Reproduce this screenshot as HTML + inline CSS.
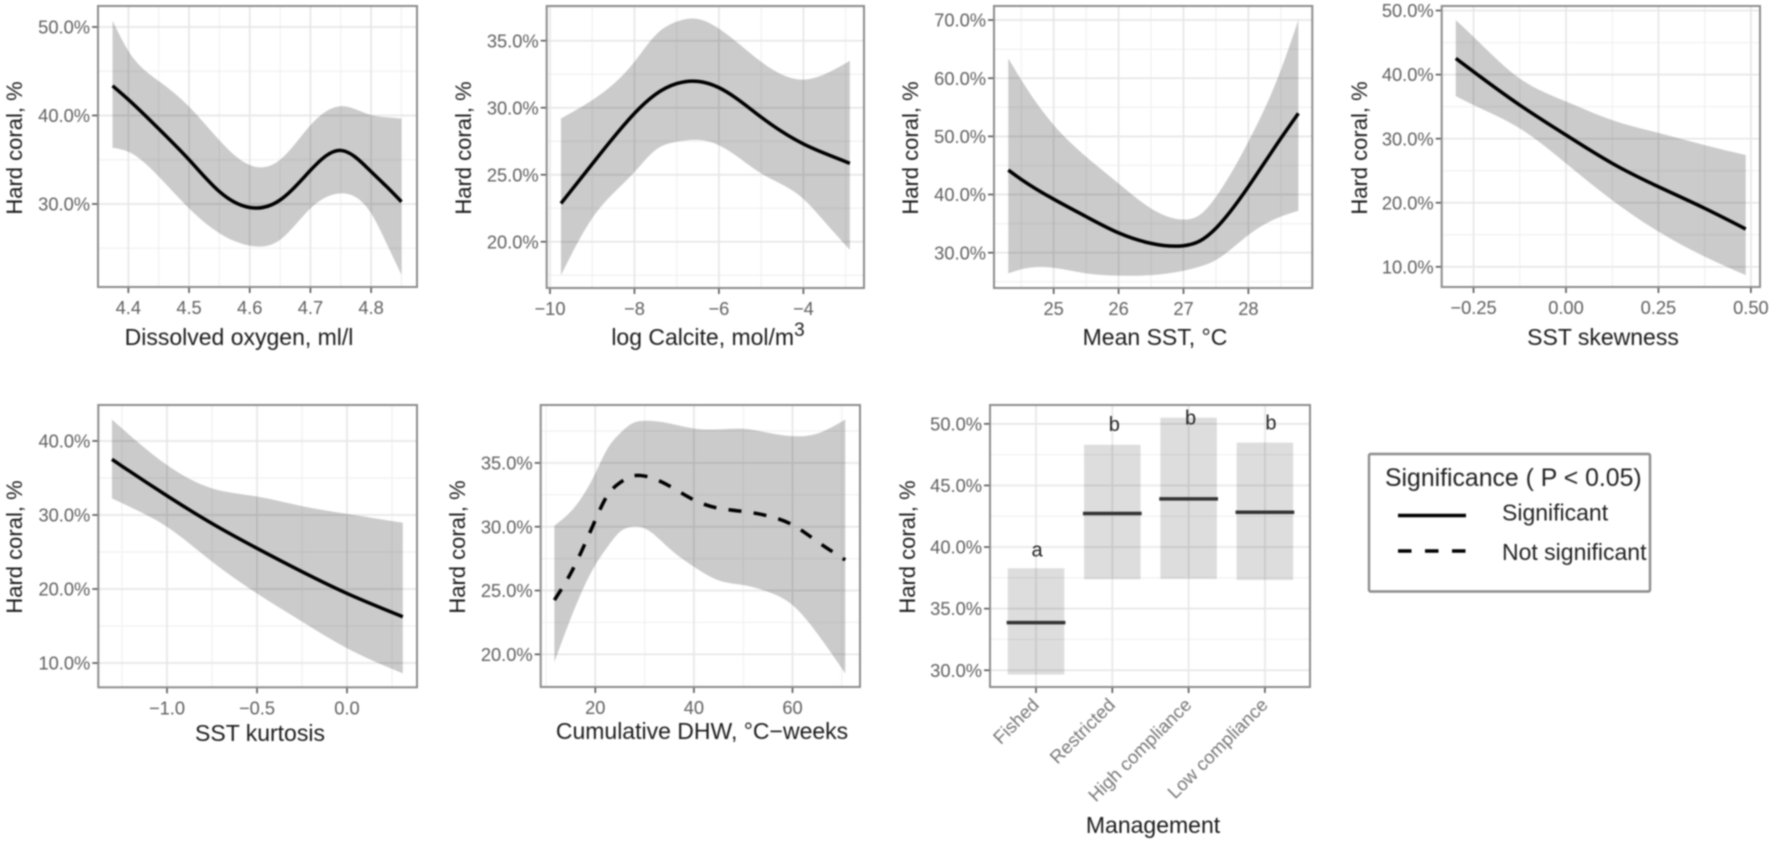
<!DOCTYPE html>
<html lang="en">
<head>
<meta charset="utf-8">
<title>Hard coral partial effects</title>
<style>
html,body{margin:0;padding:0;background:#fff;width:1772px;height:841px;overflow:hidden}
svg{display:block;filter:blur(0.75px);font-family:"Liberation Sans",Arial,sans-serif}
</style>
</head>
<body>
<svg id="fig" xmlns="http://www.w3.org/2000/svg" width="1772" height="841" viewBox="0 0 1772 841"></svg>
<script>
/* ---------- Dissolved oxygen ---------- */
const oxygenX    = [4.374,4.40,4.45,4.50,4.55,4.60,4.65,4.70,4.75,4.80,4.825,4.85];
const oxygenMean = [43.35,41.8,38.5,35.0,31.4,29.6,30.45,33.8,36.05,33.65,32.0,30.25];
const oxygenLow  = [36.35,35.9,33.1,29.5,26.7,25.3,25.95,29.5,31.2,28.95,25.6,22.0];
const oxygenHigh = [50.7,47.3,43.9,41.0,37.2,34.4,35.0,38.9,41.05,40.05,39.8,39.65];
const oxygenXTicks = [4.4,4.5,4.6,4.7,4.8];
const oxygenXLabels = ["4.4","4.5","4.6","4.7","4.8"];
const oxygenYTicks = [30,40,50];
const oxygenYLabels = ["30.0%","40.0%","50.0%"];

/* ---------- log Calcite ---------- */
const calciteX    = [-9.74,-9,-8,-7.5,-7,-6.5,-6,-5,-4,-3.5,-2.9];
const calciteMean = [22.86,25.8,29.58,31.0,31.8,31.97,31.5,29.3,27.3,26.6,25.85];
const calciteLow  = [17.5,21.75,25.2,26.85,27.46,27.6,27.2,25.1,23.2,21.5,19.4];
const calciteHigh = [29.2,30.57,33.43,35.42,36.42,36.62,35.9,33.43,32.1,32.5,33.5];
const calciteXTicks = [-10,-8,-6,-4];
const calciteXLabels = ["\u221210","\u22128","\u22126","\u22124"];
const calciteYTicks = [20,25,30,35];
const calciteYLabels = ["20.0%","25.0%","30.0%","35.0%"];

/* ---------- Mean SST ---------- */
const sstX    = [24.3,24.5,25,25.5,26,26.5,27,27.25,27.5,28,28.5,28.77];
const sstMean = [44.2,42.6,39.2,36.2,33.4,31.6,31.2,32.0,34.2,41.35,49.65,53.95];
const sstLow  = [26.45,27.15,27.4,26.45,26.05,26.15,26.9,27.6,28.75,33.05,36.2,37.2];
const sstHigh = [63.4,59.7,51.95,46.5,41.9,37.6,35.7,36.5,39.6,49.1,61.4,70.0];
const sstXTicks = [25,26,27,28];
const sstXLabels = ["25","26","27","28"];
const sstYTicks = [30,40,50,60,70];
const sstYLabels = ["30.0%","40.0%","50.0%","60.0%","70.0%"];

/* ---------- SST skewness ---------- */
const skewX    = [-0.298,-0.25,-0.125,0,0.125,0.25,0.375,0.486];
const skewMean = [42.54,40.46,35.25,30.57,26.15,22.5,19.13,15.9];
const skewLow  = [36.65,35.25,31.6,26.15,20.4,15.5,11.6,8.7];
const skewHigh = [48.5,45.9,39.4,35.8,32.9,30.9,29.0,27.45];
const skewXTicks = [-0.25,0,0.25,0.5];
const skewXLabels = ["\u22120.25","0.00","0.25","0.50"];
const skewYTicks = [10,20,30,40,50];
const skewYLabels = ["10.0%","20.0%","30.0%","40.0%","50.0%"];

/* ---------- SST kurtosis ---------- */
const kurtX    = [-1.306,-1.25,-1,-0.75,-0.5,-0.25,0,0.31];
const kurtMean = [37.52,36.6,32.6,28.85,25.5,22.34,19.4,16.26];
const kurtLow  = [32.25,31.6,28.4,23.7,19.4,15.6,12.0,8.6];
const kurtHigh = [42.9,41.7,36.75,33.6,32.5,31.2,30.15,28.95];
const kurtXTicks = [-1,-0.5,0];
const kurtXLabels = ["\u22121.0","\u22120.5","0.0"];
const kurtYTicks = [10,20,30,40];
const kurtYLabels = ["10.0%","20.0%","30.0%","40.0%"];

/* ---------- Cumulative DHW ---------- */
const dhwX    = [11.7,15,20,22.5,25,27.5,30,35,40,45,50,55,60,65,70.7];
const dhwMean = [24.25,26.34,30.52,32.48,33.45,33.97,33.97,33.2,32.1,31.45,31.2,30.85,30.15,28.85,27.4];
const dhwLow  = [19.4,22.8,27.0,28.43,29.6,30.0,29.87,28.3,26.86,25.8,25.43,24.9,23.86,21.64,18.5];
const dhwHigh = [30.08,31.18,34.18,36.14,37.32,38.1,38.3,38.1,37.7,37.63,37.68,37.37,37.1,37.3,38.4];
const dhwXTicks = [20,40,60];
const dhwXLabels = ["20","40","60"];
const dhwYTicks = [20,25,30,35];
const dhwYLabels = ["20.0%","25.0%","30.0%","35.0%"];

/* ---------- Management ---------- */
const mgmtCategories = ["Fished","Restricted","High compliance","Low compliance"];
const mgmtMean = [33.87,42.72,43.91,42.82];
const mgmtLow  = [29.65,37.39,37.42,37.33];
const mgmtHigh = [38.28,48.3,50.5,48.48];
const mgmtLetters = ["a","b","b","b"];
const mgmtLetterValues = [39.8,50.0,50.5,50.1];
const mgmtYTicks = [30,35,40,45,50];
const mgmtYLabels = ["30.0%","35.0%","40.0%","45.0%","50.0%"];

/* ---------- drawing ---------- */
const SVGNS = "http://www.w3.org/2000/svg";
const fig = document.getElementById("fig");
const COL = {major:"#e7e7e7",minor:"#f1f1f1",border:"#8c8c8c",tick:"#555",tickText:"#5f5f5f",title:"#1c1c1c"};

function mk(parent, tag, attrs, text){
  const el = document.createElementNS(SVGNS, tag);
  for (const k in attrs) el.setAttribute(k, attrs[k]);
  if (text !== undefined) el.textContent = text;
  parent.appendChild(el);
  return el;
}
function linScale(domain, range){
  return v => range[0] + (v - domain[0]) / (domain[1] - domain[0]) * (range[1] - range[0]);
}
/* natural cubic spline through the points, emitted as bezier segments */
function smooth(pts, move){
  const n = pts.length;
  const h = [], a = new Array(n).fill(0), b = new Array(n).fill(1), c = new Array(n).fill(0), r = new Array(n).fill(0);
  for (let i = 0; i < n-1; i++) h.push(pts[i+1][0]-pts[i][0]);
  for (let i = 1; i < n-1; i++){
    a[i] = h[i-1]; b[i] = 2*(h[i-1]+h[i]); c[i] = h[i];
    r[i] = 6*((pts[i+1][1]-pts[i][1])/h[i] - (pts[i][1]-pts[i-1][1])/h[i-1]);
  }
  for (let i = 1; i < n; i++){
    const w = a[i]/b[i-1];
    b[i] -= w*c[i-1]; r[i] -= w*r[i-1];
  }
  const m = new Array(n).fill(0);
  m[n-1] = r[n-1]/b[n-1];
  for (let i = n-2; i >= 0; i--) m[i] = (r[i]-c[i]*m[i+1])/b[i];
  let d = (move ? "M" : "L") + pts[0][0].toFixed(2) + " " + pts[0][1].toFixed(2);
  for (let i = 0; i < n-1; i++){
    const s = (pts[i+1][1]-pts[i][1])/h[i];
    const d0 = s - h[i]*(2*m[i]+m[i+1])/6;
    const d1 = s + h[i]*(m[i]+2*m[i+1])/6;
    const c1x = pts[i][0]+h[i]/3, c1y = pts[i][1]+d0*h[i]/3;
    const c2x = pts[i+1][0]-h[i]/3, c2y = pts[i+1][1]-d1*h[i]/3;
    d += "C"+c1x.toFixed(2)+" "+c1y.toFixed(2)+" "+c2x.toFixed(2)+" "+c2y.toFixed(2)+" "+pts[i+1][0].toFixed(2)+" "+pts[i+1][1].toFixed(2);
  }
  return d;
}
function minors(ticks, domain){
  const out = [];
  const step = ticks[1] - ticks[0];
  const lo = Math.min(domain[0],domain[1]), hi = Math.max(domain[0],domain[1]);
  for (let v = ticks[0] - step/2; v <= ticks[ticks.length-1] + step/2 + 1e-9; v += step){
    if (v >= lo && v <= hi) out.push(v);
  }
  return out;
}

function drawFrame(cfg){
  const g = mk(fig, "g", {});
  
  
  const b = cfg.box;
  const sx = linScale(cfg.xDomain, [b.l, b.r]);
  const sy = linScale(cfg.yDomain, [b.b, b.t]);

  const grid = mk(g, "g", {});
  
  
  minors(cfg.yTicks, cfg.yDomain).forEach(v => mk(grid,"line",{x1:b.l,x2:b.r,y1:sy(v),y2:sy(v),stroke:COL.minor,"stroke-width":1.2}));
  if (cfg.xMinor !== false) minors(cfg.xTicks, cfg.xDomain).forEach(v => mk(grid,"line",{y1:b.t,y2:b.b,x1:sx(v),x2:sx(v),stroke:COL.minor,"stroke-width":1.2}));
  cfg.yTicks.forEach(v => mk(grid,"line",{x1:b.l,x2:b.r,y1:sy(v),y2:sy(v),stroke:COL.major,"stroke-width":1.7}));
  cfg.xTicks.forEach(v => mk(grid,"line",{y1:b.t,y2:b.b,x1:sx(v),x2:sx(v),stroke:COL.major,"stroke-width":1.7}));

  cfg.yTicks.forEach((v,i) => {
    mk(g,"line",{x1:b.l-6,x2:b.l,y1:sy(v),y2:sy(v),stroke:COL.tick,"stroke-width":1.6});
    const t = mk(g,"text",{x:b.l-8,y:sy(v)+6.6,"text-anchor":"end","font-size":18.3,fill:COL.tickText}, cfg.yLabels[i]);
    
    
  });

  const yt = mk(g,"text",{transform:"translate("+cfg.yTitleX+" "+cfg.yTitleY+") rotate(-90)","text-anchor":"middle","font-size":22,fill:COL.title}, "Hard coral, %");
  
  

  return {g,sx,sy,b};
}
function drawBorder(f){
  const b = f.b;
  const r = mk(f.g,"rect",{x:b.l,y:b.t,width:b.r-b.l,height:b.b-b.t,fill:"none",stroke:COL.border,"stroke-width":2});
  
  
}
function drawXAxisNumeric(f,cfg){
  const b = f.b;
  cfg.xTicks.forEach((v,i) => {
    mk(f.g,"line",{y1:b.b,y2:b.b+6,x1:f.sx(v),x2:f.sx(v),stroke:COL.tick,"stroke-width":1.6});
    const t = mk(f.g,"text",{x:f.sx(v),y:b.b+27,"text-anchor":"middle","font-size":18.3,fill:COL.tickText}, cfg.xLabels[i]);
    
    
  });
  const xt = mk(f.g,"text",{x:cfg.xTitleX,y:cfg.xTitleY,"text-anchor":"middle","font-size":23,fill:COL.title});
  
  
  cfg.xTitle.forEach(part => {
    mk(xt,"tspan",part.sup ? {"font-size":19,dy:-9} : {}, part.t);
  });
}
function drawContinuous(cfg){
  const f = drawFrame(cfg);
  const {g,sx,sy} = f;
  const hiPts = cfg.xs.map((x,i)=>[sx(x),sy(cfg.high[i])]);
  const loPts = cfg.xs.map((x,i)=>[sx(x),sy(cfg.low[i])]).reverse();
  const rib = mk(g,"path",{d:smooth(hiPts,true)+smooth(loPts,false)+"Z",fill:"#000","fill-opacity":0.205});
  
  
  const attrs = {d:smooth(cfg.xs.map((x,i)=>[sx(x),sy(cfg.mean[i])]),true),fill:"none",stroke:"#000","stroke-width":3.5};
  const line = mk(g,"path",attrs);
  
  
  if (cfg.dashed){
    const total = line.getTotalLength();
    const count = Math.round(total / 25.4);
    const period = (total - 3) / count;
    line.setAttribute("stroke-dasharray", "13 " + (period - 13).toFixed(3));
  }
  drawXAxisNumeric(f,cfg);
  drawBorder(f);
}

drawContinuous({name:"dissolved-oxygen",box:{l:98,r:417,t:6,b:287},xDomain:[4.350,4.8756],yDomain:[20.62,52.37],
  xs:oxygenX,mean:oxygenMean,low:oxygenLow,high:oxygenHigh,xTicks:oxygenXTicks,xLabels:oxygenXLabels,yTicks:oxygenYTicks,yLabels:oxygenYLabels,
  yTitleX:22,yTitleY:148,xTitle:[{t:"Dissolved oxygen, ml/l"}],xTitleX:239,xTitleY:345});
drawContinuous({name:"log-calcite",box:{l:546.7,r:864,t:6,b:288},xDomain:[-10.078,-2.565],yDomain:[16.55,37.59],
  xs:calciteX,mean:calciteMean,low:calciteLow,high:calciteHigh,xTicks:calciteXTicks,xLabels:calciteXLabels,yTicks:calciteYTicks,yLabels:calciteYLabels,
  yTitleX:471,yTitleY:148,xTitle:[{t:"log Calcite, mol/m"},{t:"3",sup:true}],xTitleX:708,xTitleY:345});
drawContinuous({name:"mean-sst",box:{l:994,r:1312.3,t:6,b:288},xDomain:[24.08,28.985],yDomain:[23.93,72.41],
  xs:sstX,mean:sstMean,low:sstLow,high:sstHigh,xTicks:sstXTicks,xLabels:sstXLabels,yTicks:sstYTicks,yLabels:sstYLabels,
  yTitleX:918,yTitleY:148,xTitle:[{t:"Mean SST, \u00B0C"}],xTitleX:1155,xTitleY:345});
drawContinuous({name:"sst-skewness",box:{l:1441.7,r:1760,t:6,b:287},xDomain:[-0.3361,0.5246],yDomain:[6.85,50.71],
  xs:skewX,mean:skewMean,low:skewLow,high:skewHigh,xTicks:skewXTicks,xLabels:skewXLabels,yTicks:skewYTicks,yLabels:skewYLabels,
  yTitleX:1367,yTitleY:148,xTitle:[{t:"SST skewness"}],xTitleX:1603,xTitleY:345});
drawContinuous({name:"sst-kurtosis",box:{l:98.3,r:417,t:405,b:687.3},xDomain:[-1.3817,0.3889],yDomain:[6.72,44.86],
  xs:kurtX,mean:kurtMean,low:kurtLow,high:kurtHigh,xTicks:kurtXTicks,xLabels:kurtXLabels,yTicks:kurtYTicks,yLabels:kurtYLabels,
  yTitleX:22,yTitleY:547,xTitle:[{t:"SST kurtosis"}],xTitleX:260,xTitleY:741});
drawContinuous({name:"cumulative-dhw",box:{l:540.7,r:860,t:405,b:687},xDomain:[8.925,73.69],yDomain:[17.44,39.54],dashed:true,
  xs:dhwX,mean:dhwMean,low:dhwLow,high:dhwHigh,xTicks:dhwXTicks,xLabels:dhwXLabels,yTicks:dhwYTicks,yLabels:dhwYLabels,
  yTitleX:465,yTitleY:547,xTitle:[{t:"Cumulative DHW, \u00B0C\u2212weeks"}],xTitleX:702,xTitleY:739});

/* management panel */
(function(){
  const catPos = mgmtCategories.map((c,i)=>i+1);
  const cfg = {name:"management",box:{l:990,r:1310,t:405,b:687},xDomain:[0.397,4.591],yDomain:[28.64,51.53],
    xMinor:false,xTicks:catPos,yTicks:mgmtYTicks,yLabels:mgmtYLabels,yTitleX:915,yTitleY:547};
  const f = drawFrame(cfg);
  const {g,sx,sy,b} = f;
  const halfBox = 0.37, halfBar = 0.385;
  mgmtCategories.forEach((c,i)=>{
    const x = sx(catPos[i]);
    const r = mk(g,"rect",{x:sx(catPos[i]-halfBox),width:sx(catPos[i]+halfBox)-sx(catPos[i]-halfBox),
      y:sy(mgmtHigh[i]),height:sy(mgmtLow[i])-sy(mgmtHigh[i]),fill:"#000","fill-opacity":0.135});
    
    
    const l = mk(g,"line",{x1:sx(catPos[i]-halfBar),x2:sx(catPos[i]+halfBar),y1:sy(mgmtMean[i]),y2:sy(mgmtMean[i]),stroke:"#333","stroke-width":3.5});
    
    
    const lt = mk(g,"text",{x:x+(i===3?6:i===0?1:2),y:sy(mgmtLetterValues[i])+7,"text-anchor":"middle","font-size":20,fill:"#222"},mgmtLetters[i]);
    
    
    mk(g,"line",{y1:b.b,y2:b.b+6,x1:x,x2:x,stroke:COL.tick,"stroke-width":1.6});
    const t = mk(g,"text",{transform:"translate("+(x+4)+" "+(b.b+19)+") rotate(-45)","text-anchor":"end","font-size":18.5,fill:"#777"},c);
    
    
  });
  const xt = mk(g,"text",{x:1153,y:833,"text-anchor":"middle","font-size":23,fill:COL.title},"Management");
  
  
  drawBorder(f);
})();

/* legend */
(function(){
  const g = mk(fig,"g",{});
  
  
  mk(g,"rect",{x:1369,y:454,width:281,height:137.5,fill:"#fff",stroke:"#8c8c8c","stroke-width":2.4,rx:1.5});
  const title = mk(g,"text",{x:1385,y:486,"font-size":24.8,fill:"#222"},"Significance ( P < 0.05)");
  
  
  const s = mk(g,"line",{x1:1398,x2:1466,y1:515.5,y2:515.5,stroke:"#000","stroke-width":3.5});
  
  
  const d = mk(g,"line",{x1:1398,x2:1466,y1:551,y2:551,stroke:"#000","stroke-width":3.5,"stroke-dasharray":"13.5 13.5"});
  
  
  const t1 = mk(g,"text",{x:1502,y:520.5,"font-size":23,fill:"#222"},"Significant");
  
  
  const t2 = mk(g,"text",{x:1502,y:560,"font-size":23,fill:"#222"},"Not significant");
  
  
})();
</script>
</body>
</html>
